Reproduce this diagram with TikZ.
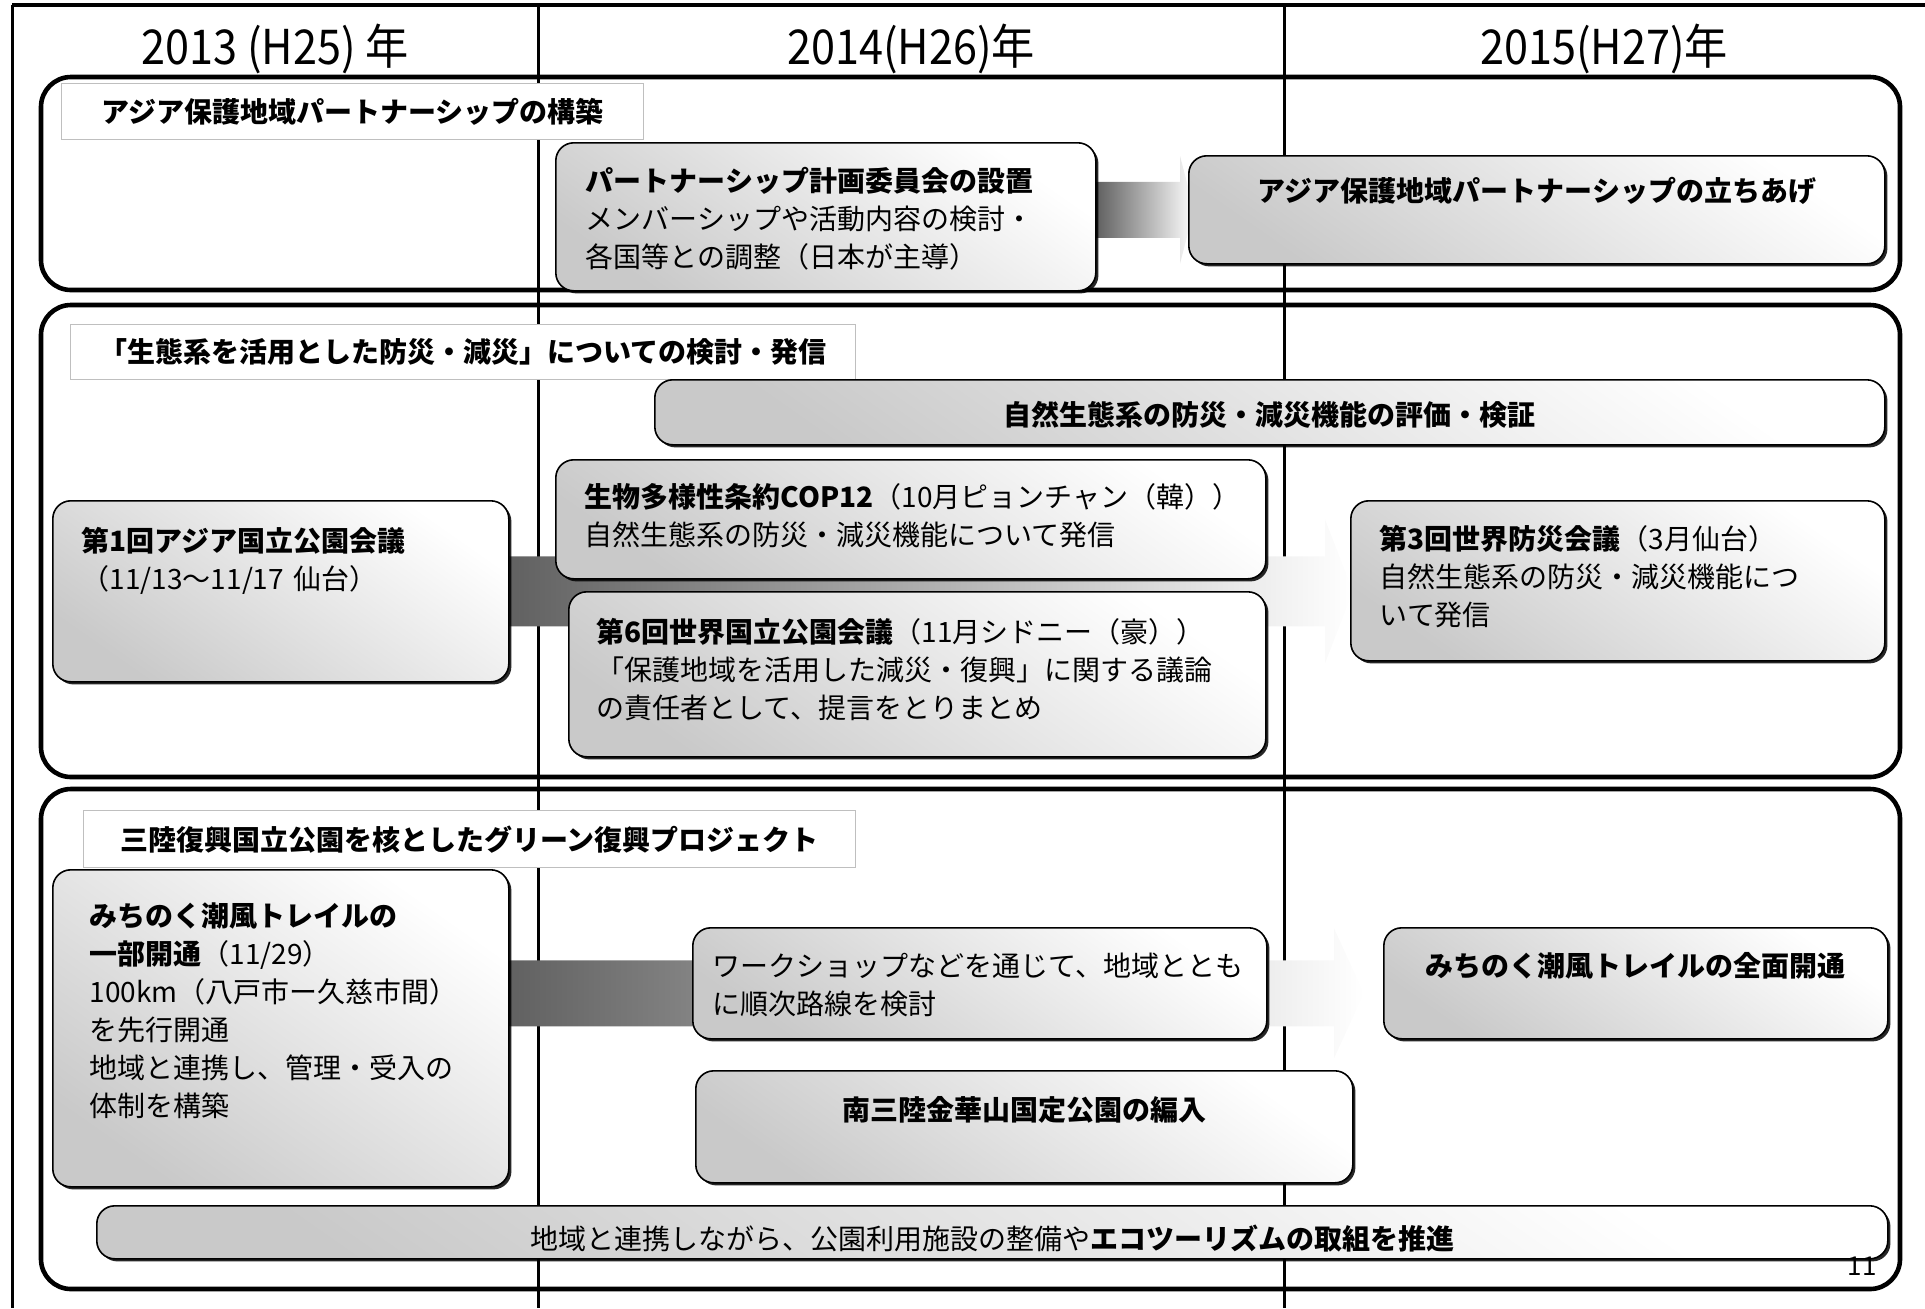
\documentclass[tikz,border=0pt]{standalone}
\usepackage{fontspec}
\setmainfont{Noto Sans CJK JP}
\newfontfamily\yrfont{Noto Sans CJK JP}[FakeStretch=0.9]
\usetikzlibrary{shadows,calc}
\pgfdeclarelayer{grid}
\pgfdeclarelayer{band}
\pgfsetlayers{grid,band,main}

\begin{document}
\begin{tikzpicture}[x=0.5pt,y=-0.5pt,
   panel/.style={draw=black,line width=2.3pt,rounded corners=15pt},
   ttl/.style={draw=black!25,fill=white,line width=0.6pt,anchor=north west,inner sep=0pt,align=center,font=\fontsize{14}{19}\selectfont\bfseries},
   evt/.style={draw=black,line width=0.8pt,rounded corners=9pt,top color=white,bottom color=black!21,shading angle=-35,
      drop shadow={shadow xshift=1.3pt,shadow yshift=-1.3pt,fill=black,opacity=0.85},anchor=north west,inner ysep=0pt,font=\fontsize{14}{19}\selectfont},
   band/.style={left color=black!62,right color=white}]
         \useasboundingbox (0,0) rectangle (1925,1308);
         \begin{pgfonlayer}{grid}
         \draw[line width=2pt] (12,5) -- (1925,5);
         \foreach \x in {12,538,1284} {\draw[line width=1.5pt] (\x,5) -- (\x,1308);}
         \end{pgfonlayer}
         \foreach \x/\t [count=\i] in {275/{2013 (H25) 年},911/{2014(H26)年},1604/{2015(H27)年}} {\node[font=\yrfont\fontsize{24}{28}\selectfont] (yr\i) at (\x,49) {\t};}
         \draw[panel] (41,77) rectangle (1900,290);
         \draw[panel] (41,305) rectangle (1900,777);
         \draw[panel] (41,789) rectangle (1900,1289);
         \node[ttl,text width=291pt,minimum height=28pt] (t1) at (61,83) {アジア保護地域パートナーシップの構築};
         \node[ttl,text width=392.5pt,minimum height=27.5pt] (t2) at (70,324) {「生態系を活用とした防災・減災」についての検討・発信};
         \node[ttl,text width=386pt,minimum height=28.5pt] (t3) at (83,810) {三陸復興国立公園を核としたグリーン復興プロジェクト};
         \node[evt,text width=240pt,inner xsep=15pt,text height=24.5pt,text depth=49.5pt,align=left] (b1) at (555,142)
            {\textbf{パートナーシップ計画委員会の設置}\\メンバーシップや活動内容の検討・\\各国等との調整（日本が主導）};
         \node[evt,text width=338pt,inner xsep=5pt,text height=23pt,text depth=31pt,align=center] (b2) at (1188,155)
            {\textbf{アジア保護地域パートナーシップの立ちあげ}};
         \node[evt,text width=605pt,inner xsep=5pt,text height=23pt,text depth=9.5pt,align=center] (b3) at (654,379)
            {\textbf{自然生態系の防災・減災機能の評価・検証}};
         \node[evt,text width=199pt,inner xsep=14.5pt,text height=25.5pt,text depth=65pt,align=left] (b4) at (52,500)
            {\textbf{第1回アジア国立公園会議}\\（11/13〜11/17 仙台）};
         \node[evt,text width=326pt,inner xsep=14.5pt,text height=24pt,text depth=35.5pt,align=left] (b5) at (555,459)
            {\textbf{生物多様性条約COP12}（10月ピョンチャン（韓））\\自然生態系の防災・減災機能について発信};
         \node[evt,text width=320.5pt,inner xsep=14pt,text height=25.5pt,text depth=57pt,align=left] (b6) at (568,591)
            {\textbf{第6回世界国立公園会議}（11月シドニー（豪））\\「保護地域を活用した減災・復興」に関する議論\\の責任者として、提言をとりまとめ};
         \node[evt,text width=238pt,inner xsep=14.5pt,text height=24.5pt,text depth=55.5pt,align=left] (b7) at (1350,500)
            {\textbf{第3回世界防災会議}（3月仙台）\\自然生態系の防災・減災機能につ\\いて発信};
         \node[evt,text width=191pt,inner xsep=18.5pt,text height=28.5pt,text depth=130pt,align=left] (b8) at (52,869)
            {\textbf{みちのく潮風トレイルの}\\\textbf{一部開通}（11/29）\\100km（八戸市ー久慈市間）\\を先行開通\\地域と連携し、管理・受入の\\体制を構築};
         \node[evt,text width=267pt,inner xsep=10pt,text height=24.5pt,text depth=31pt,align=left] (b9) at (692,927)
            {ワークショップなどを通じて、地域ととも\\に順次路線を検討};
         \node[evt,text width=242pt,inner xsep=5pt,text height=24.5pt,text depth=31pt,align=center] (b10) at (1383,927)
            {\textbf{みちのく潮風トレイルの全面開通}};
         \node[evt,text width=318.5pt,inner xsep=5pt,text height=25pt,text depth=31pt,align=center] (b11) at (695,1070)
            {\textbf{南三陸金華山国定公園の編入}};
         \node[evt,text width=885.5pt,inner xsep=5pt,text height=22pt,text depth=4.5pt,align=center] (b12) at (96,1205)
            {地域と連携しながら、公園利用施設の整備や\textbf{エコツーリズムの取組を推進}};
         \node[font=\fontsize{13}{15}\selectfont] (pg) at (1862,1266) {11};
         \begin{pgfonlayer}{band}
         \shade[band] ($(b1.east|-b2.west)+(0,-28)$) -- ($(b2.west)+(-8,-28)$) -- ($(b2.west)+(-8,-54)$) -- ($(b2.west)+(6,0)$)
            -- ($(b2.west)+(-8,54)$) -- ($(b2.west)+(-8,28)$) -- ($(b1.east|-b2.west)+(0,28)$) -- cycle;
         \shade[band] ($(b4.east)+(0,-35)$) -- ($(b7.west|-b4.east)+(-25,-35)$) -- ($(b7.west|-b4.east)+(-25,-72)$) -- ($(b7.west|-b4.east)+(3,0)$)
            -- ($(b7.west|-b4.east)+(-25,72)$) -- ($(b7.west|-b4.east)+(-25,35)$) -- ($(b4.east)+(0,35)$) -- cycle;
         \shade[band] ($(b8.east|-b9.west)+(0,-23)$) -- ($(b10.west|-b9.west)+(-49,-23)$) -- ($(b10.west|-b9.west)+(-49,-55)$) -- ($(b10.west|-b9.west)+(-19,10)$)
            -- ($(b10.west|-b9.west)+(-49,75)$) -- ($(b10.west|-b9.west)+(-49,43)$) -- ($(b8.east|-b9.west)+(0,43)$) -- cycle;
         \end{pgfonlayer}
      \end{tikzpicture}
\end{document}
